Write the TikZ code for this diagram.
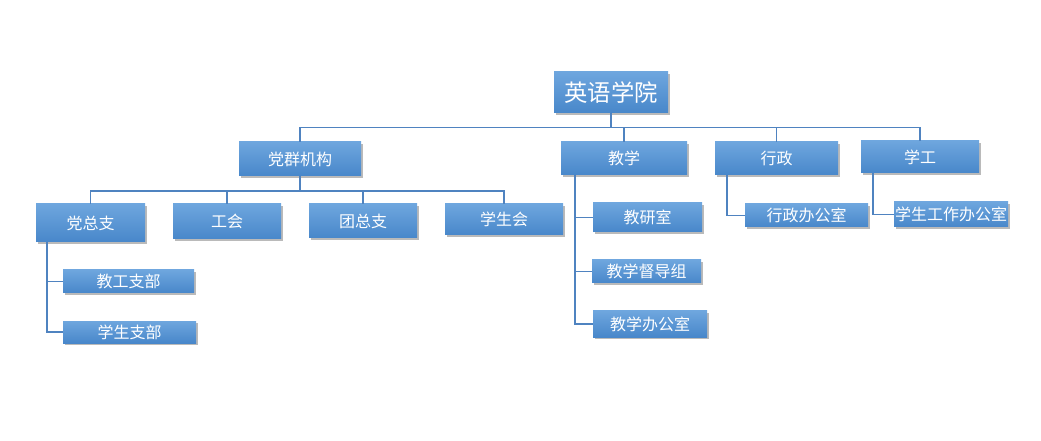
\documentclass[tikz,border=0pt]{standalone}
\usepackage{fontspec}
\setmainfont{Noto Sans CJK SC}
\usetikzlibrary{calc,shadows}
\tikzset{orgpx/.style={x=0.75pt,y=-0.75pt,every node/.style={inner sep=0pt,outer sep=0pt,anchor=center,align=center}}}
\definecolor{orgtop}{HTML}{6EA6DE}
\definecolor{orgbot}{HTML}{4887CA}
\definecolor{orgline}{HTML}{4F83C0}
\tikzset{
  kuang/.style={top color=orgtop,bottom color=orgbot,draw=none,text=white,
    font=\fontsize{12}{14}\selectfont,
    drop shadow={shadow xshift=1.2pt,shadow yshift=-1.5pt,opacity=0.45,fill=black!60}},
  lian/.style={draw=orgline,line width=0.9pt},
}

\begin{document}
\begin{tikzpicture}[orgpx]
  \useasboundingbox (0,0) rectangle (1041,441);
  % 第一层
  \node[kuang,minimum width=85.5pt,minimum height=30.75pt,font=\fontsize{17.5}{20}\selectfont] (root) at (611,92.5) {英语学院};
  % 第二层
  \node[kuang,minimum width=91.5pt,minimum height=25.5pt] (djjg) at (300,159) {党群机构};
  \node[kuang,minimum width=94.5pt,minimum height=24.75pt] (jx) at (624,158.5) {教学};
  \node[kuang,minimum width=92.25pt,minimum height=24.75pt] (xz) at (776.5,158.5) {行政};
  \node[kuang,minimum width=88.5pt,minimum height=24pt] (xg) at (920,157) {学工};
  % 党群机构下属
  \node[kuang,minimum width=81.75pt,minimum height=28.5pt] (dzz) at (90.5,223) {党总支};
  \node[kuang,minimum width=81pt,minimum height=26.25pt] (gh) at (227,221.5) {工会};
  \node[kuang,minimum width=81pt,minimum height=25.5pt] (tzz) at (363,221) {团总支};
  \node[kuang,minimum width=88.5pt,minimum height=23.25pt] (xsh) at (504,219.5) {学生会};
  \node[kuang,minimum width=98.25pt,minimum height=17.25pt] (jgzb) at (128.5,281.5) {教工支部};
  \node[kuang,minimum width=99.75pt,minimum height=16.5pt] (xszb) at (129.5,332) {学生支部};
  % 教学下属
  \node[kuang,minimum width=81.75pt,minimum height=21.75pt] (jys) at (647.5,217.5) {教研室};
  \node[kuang,minimum width=81.75pt,minimum height=17.25pt] (ddz) at (646.5,271.5) {教学督导组};
  \node[kuang,minimum width=85.5pt,minimum height=19.5pt] (jxbgs) at (650,324) {教学办公室};
  % 行政、学工下属
  \node[kuang,minimum width=92.25pt,minimum height=17.25pt] (xzbgs) at (806.5,215.5) {行政办公室};
  \node[kuang,minimum width=85.5pt,minimum height=18.75pt] (xgbgs) at (951,214.5) {学生工作办公室};
  % 连线
  \foreach \t in {djjg,jx,xz,xg}
    \draw[lian] (root.south) -- ++(0,14.5) -| (\t.north);
  \foreach \t in {dzz,gh,tzz,xsh}
    \draw[lian] (djjg.south) -- ++(0,15) -| (\t.north);
  \foreach \t in {jgzb,xszb}
    \draw[lian] ($(dzz.south west)+(11,0)$) |- (\t.west);
  \foreach \t in {jys,ddz,jxbgs}
    \draw[lian] ($(jx.south west)+(14,0)$) |- (\t.west);
  \draw[lian] ($(xz.south west)+(12,0)$) |- (xzbgs.west);
  \draw[lian] ($(xg.south west)+(12,0)$) |- (xgbgs.west);
\end{tikzpicture}
\end{document}
